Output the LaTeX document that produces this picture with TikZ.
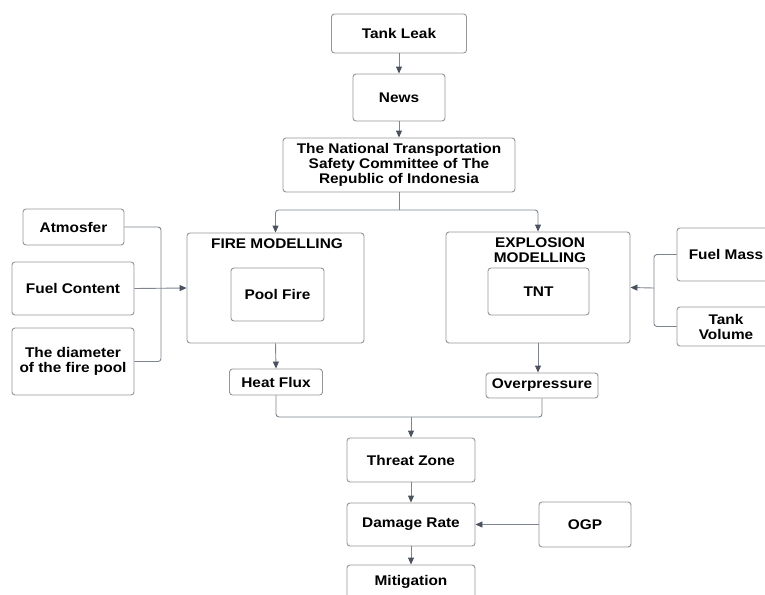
\documentclass[tikz,border=0pt]{standalone}
\usepackage{fontspec}
\setmainfont{Liberation Sans}[FakeStretch=1.1]
\usepackage{tikz}
\usetikzlibrary{arrows.meta,positioning,calc}

\definecolor{boxgray}{RGB}{150,150,150}
\definecolor{linegray}{RGB}{125,132,142}
\definecolor{tipgray}{RGB}{75,82,95}

\tikzset{
  box/.style={draw=boxgray, line width=0.9pt, rounded corners=3pt, fill=white,
    inner sep=0pt, align=center, font=\bfseries\fontsize{14}{15}\selectfont},
  title/.style={inner sep=0pt, align=center, font=\bfseries\fontsize{14}{15}\selectfont},
  link/.style={draw=linegray, line width=0.9pt, rounded corners=3pt},
  arr/.style={link, -{Triangle[length=7pt,width=6pt,color=tipgray]}}
}

\begin{document}
\begin{tikzpicture}[x=1pt,y=-1pt]
\useasboundingbox (0,0) rectangle (765,594);
% main chain
\node[box, minimum width=135, minimum height=39] (leak) at (399,33.5) {Tank Leak};
\node[box, minimum width=92, minimum height=47] (news) at (399,97.5) {News};
\node[box, minimum width=232, minimum height=54] (ntsc) at (399,165)
  {The National Transportation\\Safety Committee of The\\Republic of Indonesia};
% fire side
\node[box, minimum width=177, minimum height=110] (fire) at (275.5,288) {};
\node[title] (firetitle) at (277,244) {FIRE MODELLING};
\node[box, minimum width=93, minimum height=53] (pool) at (277.5,294.5) {Pool Fire};
\node[box, minimum width=93, minimum height=26] (heat) at (276,382) {Heat Flux};
\node[box, minimum width=101, minimum height=36] (atm) at (73.5,227) {Atmosfer};
\node[box, minimum width=122, minimum height=53] (fuel) at (73,288.5) {Fuel Content};
\node[box, minimum width=122, minimum height=67] (diam) at (73,361.5)
  {The diameter\\of the fire pool};
% explosion side
\node[box, minimum width=184, minimum height=111] (expl) at (538,287.5) {};
\node[title] (expltitle) at (540,250) {EXPLOSION\\MODELLING};
\node[box, minimum width=101, minimum height=47] (tnt) at (538.5,291.5) {TNT};
\node[box, minimum width=112, minimum height=25] (over) at (542,385.5) {Overpressure};
\node[box, minimum width=98, minimum height=53] (mass) at (726,254.5) {Fuel Mass};
\node[box, minimum width=98, minimum height=39] (vol) at (726,326.5) {Tank\\Volume};
% bottom chain
\node[box, minimum width=128, minimum height=44] (threat) at (411,460) {Threat Zone};
\node[box, minimum width=128, minimum height=43] (damage) at (411,524.5) {Damage Rate};
\node[box, minimum width=128, minimum height=34] (mitig) at (411,582) {Mitigation};
\node[box, minimum width=92, minimum height=45] (ogp) at (585,524.5) {OGP};

\coordinate (fork) at (399,210);
\coordinate (join) at (161,288);
\coordinate (join2) at (654,288);
\coordinate (merge) at (411,417);

\draw[arr] (leak) -- (news);
\draw[arr] (news) -- (ntsc);
\draw[link] (ntsc.south) -- (fork);
\draw[arr] (fork) -| (fire.north);
\draw[arr] (fork) -| (expl.north);
\draw[link] (atm.east) -| (join);
\draw[link] (diam.east) -| (join);
\draw[arr] (fuel.east) -- (fire.west);
\draw[link] (mass.west) -| (join2);
\draw[link] (vol.west) -| (join2);
\draw[arr] (join2) -- (expl.east);
\draw[arr] (fire.south) -- (heat.north);
\draw[arr] (expl.south) -- (expl.south |- over.north);
\draw[link] (heat.south) |- (merge);
\draw[link] (over.south) |- (merge);
\draw[arr] (merge) -- (threat.north);
\draw[arr] (threat) -- (damage);
\draw[arr] (damage) -- (mitig);
\draw[arr] (ogp) -- (damage);
\end{tikzpicture}
\end{document}
